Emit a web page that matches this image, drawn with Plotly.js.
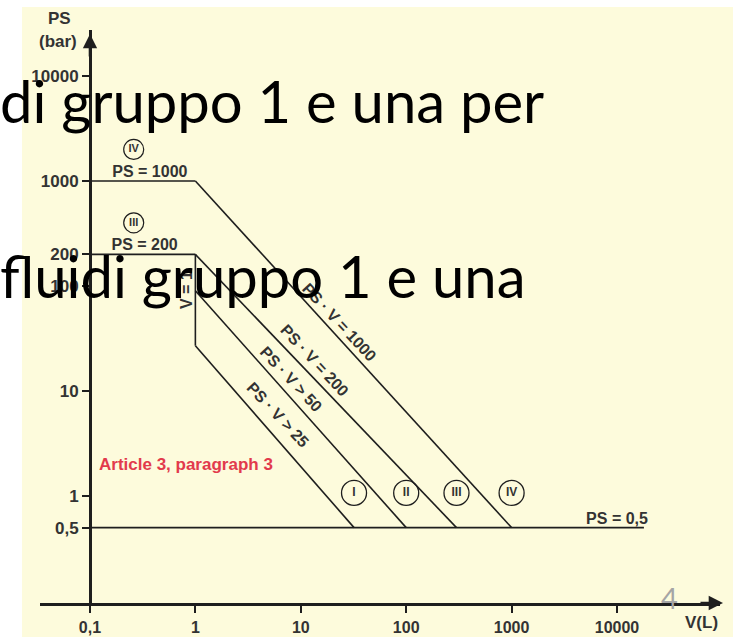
<!DOCTYPE html>
<html>
<head>
<meta charset="utf-8">
<script src="https://cdn.plot.ly/plotly-3.0.1.min.js"></script>
<style>
  html, body { margin: 0; padding: 0; background: #fff; }
  #plot { width: 735px; height: 637px; }
</style>
</head>
<body>
<div id="plot"></div>
<script>
// axis ticks (V in litres, PS in bar)
var xTicks = [0.1, 1, 10, 100, 1000, 10000];
var xTickText = ['0,1', '1', '10', '100', '1000', '10000'];
var yTicks = [0.5, 1, 10, 100, 200, 1000, 10000];
var yTickText = ['0,5', '1', '10', '100', '200', '1000', '10000'];

// category borders
var categories = ['I', 'II', 'III', 'IV'];
var curveLabels = ['PS · V > 25', 'PS · V > 50', 'PS · V = 200', 'PS · V = 1000'];
var startPS = [27, 90, 200, 1000];   // where each border leaves V = 1
var endV = [32, 100, 300, 1000];     // where each border meets PS = 0,5

// horizontal limits
var levelPS = [1000, 200];
var levelText = ['PS = 1000', 'PS = 200'];
var levelCat = ['IV', 'III'];
var levelCatPS = [2000, 400];
var levelCatV = 0.26;
var levelTextV = [0.37, 0.33];
var minPS = 0.5;
var minV = 0.1;
var maxV = 18000;
var splitV = 1;
var circlePS = 1.07;
var baseTextV = 10000;

var ink = '#1e1e1e';
var txt = '#333333';
var fam = 'Liberation Sans, Arial, sans-serif';
var labelFont = {family: fam, size: 16, color: txt, weight: 'bold'};
var tickFont = {family: fam, size: 17, color: txt, weight: 'bold'};

// plot box in pixels
var L = 40, R = 720, T = 30, B = 603;
function P(px, py) { return {x: (px - L) / (R - L), y: (B - py) / (B - T)}; }

var data = [];
function seg(x, y) {
  data.push({x: x, y: y, type: 'scatter', mode: 'lines', line: {color: ink, width: 1.6},
    hoverinfo: 'skip', showlegend: false});
}
levelPS.forEach(function (p) { seg([minV, splitV], [p, p]); });
seg([splitV, splitV], [levelPS[1], startPS[0]]);
categories.forEach(function (c, i) { seg([splitV, endV[i]], [startPS[i], minPS]); });
seg([minV, maxV], [minPS, minPS]);

// circled category numbers
data.push({
  x: endV, y: endV.map(function () { return circlePS; }), text: categories,
  type: 'scatter', mode: 'markers+text', textposition: 'middle center',
  marker: {symbol: 'circle-open', size: 25, color: ink, line: {width: 1.3, color: ink}},
  textfont: {family: fam, size: 12, color: txt, weight: 'bold'},
  hoverinfo: 'skip', showlegend: false
});
data.push({
  x: [levelCatV, levelCatV], y: levelCatPS, text: levelCat,
  type: 'scatter', mode: 'markers+text', textposition: 'middle center',
  marker: {symbol: 'circle-open', size: 20, color: ink, line: {width: 1.2, color: ink}},
  textfont: {family: fam, size: 11, color: txt, weight: 'bold'},
  hoverinfo: 'skip', showlegend: false
});
data.push({
  x: levelTextV.concat([baseTextV]), y: levelPS.concat([minPS]), text: levelText.concat(['PS = 0,5']),
  type: 'scatter', mode: 'text', textposition: 'top center',
  textfont: labelFont, hoverinfo: 'skip', showlegend: false
});

var annotations = [];
var tPos = [0.44, 0.41, 0.42, 0.43];
var offs = [17, 13, 13, 11];
curveLabels.forEach(function (t, i) {
  var ly0 = Math.log10(startPS[i]);
  annotations.push({
    xref: 'x', yref: 'y',
    x: tPos[i] * Math.log10(endV[i]),
    y: ly0 + tPos[i] * (Math.log10(minPS) - ly0),
    xanchor: 'center', yanchor: 'middle',
    text: t, showarrow: false, textangle: 47,
    xshift: offs[i] * 0.74, yshift: offs[i] * 0.67,
    font: labelFont
  });
});

function note(px, py, text, font, extra) {
  var p = P(px, py);
  var a = {xref: 'paper', yref: 'paper', x: p.x, y: p.y, text: text, showarrow: false,
    xanchor: 'center', yanchor: 'middle', font: font};
  for (var k in extra) a[k] = extra[k];
  annotations.push(a);
}
note(59, 19, 'PS', tickFont);
note(58, 41, '(bar)', tickFont);
note(701, 622, 'V(L)', tickFont);
note(97, 464, 'Article 3, paragraph 3',
  {family: fam, size: 17, color: '#e23a4c', weight: 'bold'},
  {xanchor: 'left'});
note(186, 290, 'V = 1', labelFont, {textangle: -90});

// axis arrows
var tipY = P(90, 34), tipX = P(723, 603);
annotations.push({xref: 'paper', yref: 'paper', x: tipY.x, y: tipY.y, ax: 0, ay: 24, text: '',
  showarrow: true, arrowhead: 2, arrowsize: 1.1, arrowwidth: 2.6, arrowcolor: ink});
annotations.push({xref: 'paper', yref: 'paper', x: tipX.x, y: tipX.y, ax: -24, ay: 0, text: '',
  showarrow: true, arrowhead: 2, arrowsize: 1.1, arrowwidth: 2.6, arrowcolor: ink});

// slide text over the picture
var slideFont = {family: 'Lato, sans-serif', size: 58, color: '#000'};
note(-2, 100, 'di gruppo 1 e una per', slideFont, {xanchor: 'left'});
note(-2, 275, 'fluidi gruppo 1 e una', slideFont, {xanchor: 'left'});
note(669, 597, '4', {family: 'Lato, sans-serif', size: 29, color: '#a5a5a5'});

var bg0 = P(22, 637), bg1 = P(733, 7);
var layout = {
  width: 735, height: 637,
  margin: {l: L, r: 735 - R, t: T, b: 637 - B},
  paper_bgcolor: '#ffffff',
  plot_bgcolor: 'rgba(0,0,0,0)',
  showlegend: false,
  xaxis: {
    type: 'log', range: [-1.474, 4.977],
    tickvals: xTicks, ticktext: xTickText,
    ticks: 'outside', ticklen: 7, tickwidth: 2.2, tickcolor: ink,
    showline: true, linewidth: 3.4, linecolor: ink,
    showgrid: false, zeroline: false,
    tickfont: {family: fam, size: 16, color: txt, weight: 'bold'}
  },
  yaxis: {
    type: 'log', range: [-1.019, 4.438],
    anchor: 'free', position: (90 - L) / (R - L),
    tickvals: yTicks, ticktext: yTickText,
    ticks: 'outside', ticklen: 7, tickwidth: 2.2, tickcolor: ink,
    showline: true, linewidth: 3, linecolor: ink,
    showgrid: false, zeroline: false,
    tickfont: tickFont
  },
  shapes: [{
    type: 'rect', xref: 'paper', yref: 'paper', layer: 'below',
    x0: bg0.x, x1: bg1.x, y0: bg0.y, y1: bg1.y,
    fillcolor: '#fdfbdc', line: {width: 0}
  }],
  annotations: annotations
};

Plotly.newPlot('plot', data, layout, {staticPlot: true, displayModeBar: false});
</script>
</body>
</html>
